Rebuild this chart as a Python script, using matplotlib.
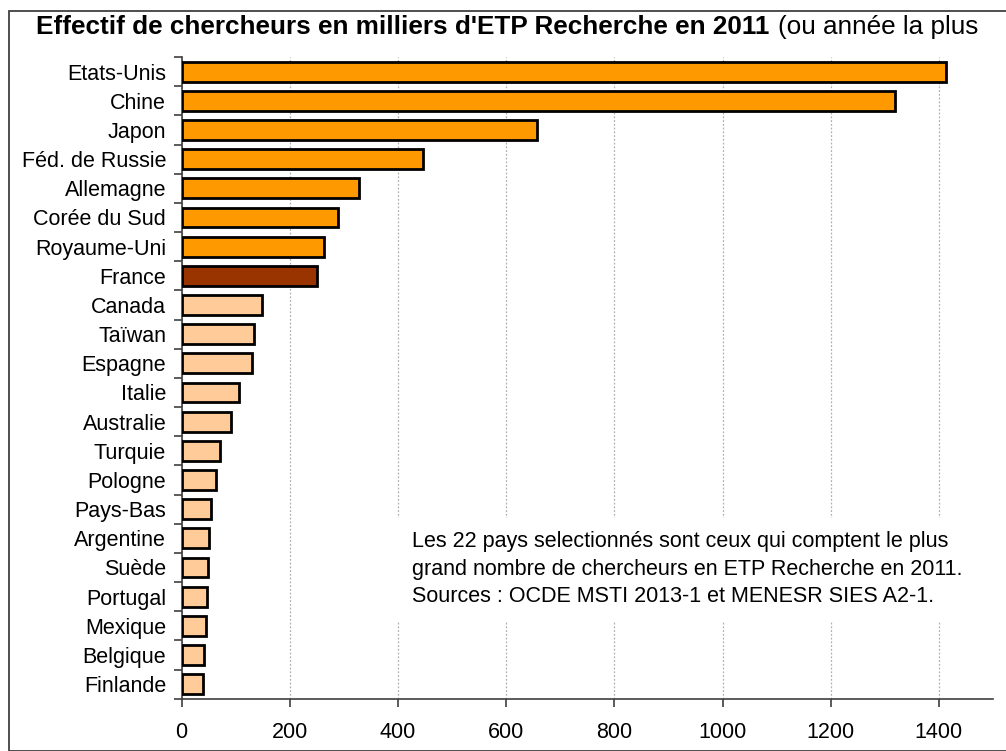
import matplotlib
matplotlib.use("Agg")
import matplotlib.pyplot as plt
from matplotlib.patches import Rectangle
import numpy as np

plt.rcParams['font.family'] = ['Liberation Sans', 'DejaVu Sans']

# donnees (milliers d'ETP)
pays = ["Etats-Unis", "Chine", "Japon", "Féd. de Russie", "Allemagne",
        "Corée du Sud", "Royaume-Uni", "France", "Canada", "Taïwan",
        "Espagne", "Italie", "Australie", "Turquie", "Pologne", "Pays-Bas",
        "Argentine", "Suède", "Portugal", "Mexique", "Belgique", "Finlande"]
effectifs = [1413, 1319, 657, 447, 328, 289, 263, 250, 149, 134,
             130, 106, 92, 71, 64, 54, 51, 49, 48, 46, 41, 40]
groupe = ["top"] * 7 + ["fr"] + ["autre"] * 14
couleurs = {"top": "#FF9900", "fr": "#993300", "autre": "#FFCC99"}
xticks = [0, 200, 400, 600, 800, 1000, 1200, 1400]

fs = 15.5
fig = plt.figure(figsize=(10.06, 7.51), dpi=100)
W, H = 1006, 751

# cadre autour du graphique
fig.patches.append(Rectangle((9 / W, 0), 1.1, 1 - 11 / H, transform=fig.transFigure,
                             fill=False, edgecolor="#404040", linewidth=1.3))

ax = fig.add_axes([181.5 / W, 52.3 / H, (993 - 181.5) / W, (694 - 52.3) / H])

y = np.arange(len(pays))
ax.barh(y, effectifs, height=0.68, color=[couleurs[g] for g in groupe],
        edgecolor="black", linewidth=2, zorder=3)

ax.set_ylim(len(pays) - 0.5, -0.5)
ax.set_xlim(0, 1500)
ax.set_yticks(y)
ax.set_yticklabels(pays, fontsize=fs)
ax.set_yticks(np.arange(len(pays) + 1) - 0.5, minor=True)
ax.tick_params(axis="y", which="major", length=0, pad=11)
ax.tick_params(axis="y", which="minor", length=6, width=1.2, color="#404040")
ax.set_xticks(xticks)
ax.set_xticklabels([str(v) for v in xticks], fontsize=fs)
ax.tick_params(axis="x", length=6, width=1.2, color="#404040", pad=11)

ax.grid(axis="x", linestyle=(0, (1.5, 1.5)), color="#b0b0b0", linewidth=0.9, zorder=0)
for s in ["top", "right"]:
    ax.spines[s].set_visible(False)
for s in ["left", "bottom"]:
    ax.spines[s].set_color("#404040")
    ax.spines[s].set_linewidth(1.2)

# encadre de texte (fond blanc qui masque le quadrillage)
ax.add_patch(Rectangle((395 / W, 129 / H), 572 / W, 104 / H, transform=fig.transFigure,
                       facecolor="white", edgecolor="none", zorder=2))
fig.text(412 / W, 1 - 569 / H,
         "Les 22 pays selectionnés sont ceux qui comptent le plus\n"
         "grand nombre de chercheurs en ETP Recherche en 2011.\n"
         "Sources : OCDE MSTI 2013-1 et MENESR SIES A2-1.",
         fontsize=fs, va="center", ha="left", linespacing=1.42, zorder=4)

# titre : partie en gras puis partie normale
t1 = fig.text(36 / W, 1 - 27 / H, "Effectif de chercheurs en milliers d'ETP Recherche en 2011",
              fontsize=18.8, fontweight="bold", va="center", ha="left")
fig.canvas.draw()
bb = t1.get_window_extent()
fig.text((bb.x1 + 9) / W, 1 - 27 / H, "(ou année la plus", fontsize=18.8,
         va="center", ha="left")

fig.savefig("out.png", dpi=100)
